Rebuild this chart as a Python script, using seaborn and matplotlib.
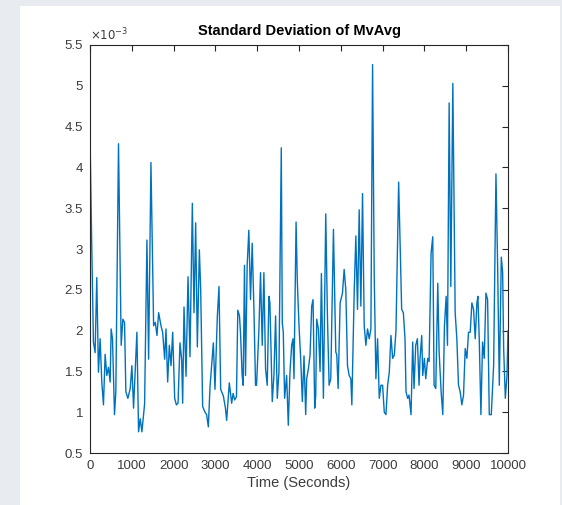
#!/usr/bin/env python3
"""Standard deviation of the moving average, MATLAB-look line chart."""
import matplotlib
matplotlib.use("Agg")
import matplotlib.pyplot as plt
import matplotlib.ticker as mticker
from matplotlib.patches import Rectangle
import seaborn as sns

# values (y in units of 1e-3)
time_s = [
    0, 42, 82, 122, 162, 202, 242, 282, 322, 362, 402, 442, 482, 506, 538,
    586, 618, 682, 746, 786, 826, 858, 906, 962, 1002, 1042, 1122, 1162,
    1202, 1242, 1306, 1362, 1402, 1458, 1522, 1562, 1602, 1642, 1698, 1738,
    1786, 1818, 1858, 1898, 1938, 1978, 2026, 2066, 2106, 2153, 2193, 2217,
    2249, 2297, 2345, 2392, 2448, 2488,
    2528, 2568, 2616, 2648, 2695, 2751, 2790, 2831, 2871, 2927, 2951, 2990,
    3046, 3086, 3126, 3190, 3240, 3269, 3333, 3389, 3424, 3461, 3504, 3536,
    3576, 3600, 3640, 3664, 3696, 3720, 3760,
    3800, 3840, 3880, 3920, 3960, 3984, 4040, 4080, 4120, 4160, 4200, 4240,
    4280, 4304, 4360, 4400, 4440, 4480, 4520, 4576, 4600, 4624, 4656, 4704,
    4744, 4784, 4824, 4856, 4880, 4930, 4960,
    5000, 5040, 5080, 5120, 5160, 5184, 5224, 5264, 5304, 5336, 5376, 5400,
    5424, 5464, 5504, 5536, 5584, 5640, 5680, 5720, 5760, 5824, 5880, 5904,
    5936, 5984, 6040, 6080, 6120, 6160, 6200, 6240, 6264, 6320, 6360, 6400,
    6440, 6480, 6520, 6560, 6600, 6640, 6680, 6720, 6760, 6800, 6840, 6880,
    6920, 6960, 7000, 7040, 7080, 7120, 7160, 7200, 7240, 7280, 7320, 7384,
    7456, 7496, 7536, 7560, 7600, 7632, 7680, 7720, 7752, 7792, 7832, 7872,
    7896, 7936, 7960, 8000, 8032, 8080, 8112, 8160, 8200, 8232, 8272, 8320,
    8352, 8400, 8440, 8480, 8520, 8552, 8592, 8632, 8680, 8736, 8776, 8816,
    8856, 8896, 8936, 8976, 9016, 9056, 9096, 9136, 9176, 9216, 9256, 9280,
    9312, 9352, 9392, 9432, 9472, 9512, 9552, 9600, 9656, 9712, 9752, 9792,
    9840, 9872, 9896, 9936, 9976, 10000,
]
std_mvavg = [
    4.41, 3.03, 1.86, 1.73, 2.65, 1.49, 1.90, 1.37, 1.09, 1.71, 1.45, 1.55,
    1.37, 2.02, 1.90, 0.97, 1.25, 4.29, 1.82, 2.14, 2.10, 1.25, 1.17, 1.29,
    1.57, 1.05, 1.98, 0.76, 0.92, 0.76, 1.10, 3.11, 1.65, 4.06, 2.06, 2.10,
    1.94, 2.22, 2.06, 1.98, 1.65, 2.02, 1.37, 1.82, 1.57, 1.98, 1.17, 1.09,
    1.11, 1.85, 1.64, 1.11, 2.29, 1.44, 2.66, 1.68, 3.56, 2.22,
    3.32, 1.80, 2.99, 2.50, 1.07, 1.00, 0.97, 0.82, 1.31, 1.68, 1.85, 1.28,
    2.17, 2.54, 1.28, 1.20, 1.05, 0.90, 1.36, 1.11, 1.23, 1.15, 1.19, 2.25,
    2.18, 1.98, 1.45, 1.33, 2.80, 1.45, 2.80,
    3.23, 2.38, 3.07, 2.30, 1.33, 1.33, 2.00, 2.71, 1.82, 2.71, 1.53, 1.33,
    2.42, 2.34, 1.13, 1.45, 2.18, 1.17, 1.49, 4.24, 2.10, 1.98, 1.17, 1.45,
    0.84, 1.49, 1.82, 1.90, 1.41, 3.33, 2.60,
    2.06, 1.66, 1.13, 1.69, 0.97, 1.41, 1.53, 1.70, 2.30, 2.38, 1.05, 1.20,
    2.14, 2.02, 1.50, 2.70, 1.17, 3.43, 2.18, 1.33, 1.41, 3.24, 1.74, 1.70,
    1.29, 2.34, 2.46, 2.75, 2.50, 1.57, 1.45, 1.41, 1.09, 2.46, 3.16, 2.26,
    3.48, 2.30, 3.68, 2.06, 1.82, 2.02, 1.90, 2.02, 5.26, 2.66, 1.41, 1.90,
    1.17, 1.33, 1.33, 1.00, 0.97, 1.33, 1.49, 1.94, 1.66, 1.70, 2.00, 3.82,
    2.26, 2.22, 1.90, 1.25, 1.17, 1.21, 0.97, 1.86, 1.29, 1.82, 1.90, 1.33,
    1.66, 1.94, 1.45, 1.66, 1.41, 1.66, 1.62, 2.95, 3.15, 1.33, 1.29, 2.58,
    1.74, 1.25, 0.97, 2.06, 2.42, 1.82, 4.79, 2.54, 5.03, 2.22, 1.90, 1.33,
    1.25, 1.09, 1.21, 1.78, 1.66, 1.98, 1.98, 2.34, 2.26, 1.90, 2.34, 2.42,
    1.90, 0.97, 1.86, 1.66, 2.46, 2.38, 0.97, 0.97, 1.57, 3.92, 2.79, 1.33,
    2.90, 2.71, 1.78, 1.17, 1.45, 2.00,
]
x_ticks = list(range(0, 10001, 1000))
y_ticks = [0.5, 1, 1.5, 2, 2.5, 3, 3.5, 4, 4.5, 5, 5.5]

sns.set_style("white")
plt.rcParams["font.family"] = ["Liberation Sans", "DejaVu Sans"]
AXCOL = "#262626"
TXTCOL = "#3c3c3c"
LINE = "#0072BD"

fig = plt.figure(figsize=(5.62, 5.05), dpi=100, facecolor="#e8ecf0")
# white "page" behind the chart
fig.patches.append(Rectangle((20 / 562, 0), 540 / 562, 499 / 505,
                             transform=fig.transFigure, facecolor="white",
                             edgecolor="none", zorder=-10))

ax = fig.add_axes([90 / 562, 52 / 505, 418 / 562, 408 / 505])
ax.set_zorder(5)
sns.lineplot(x=time_s, y=std_mvavg, ax=ax, color=LINE, linewidth=1.0,
             estimator=None, sort=False)

ax.set_xlim(0, 10000)
ax.set_ylim(0.5, 5.5)
ax.set_xticks(x_ticks)
ax.set_yticks(y_ticks)
ax.yaxis.set_major_formatter(mticker.FormatStrFormatter("%g"))
ax.tick_params(direction="in", length=4, width=0.8, color=AXCOL,
               labelcolor=TXTCOL, labelsize=9.5, top=True, right=True,
               labeltop=False, labelright=False, pad=5)
for s in ax.spines.values():
    s.set_color(AXCOL)
    s.set_linewidth(0.8)
    s.set_visible(True)

ax.set_title("Standard Deviation of MvAvg", fontsize=10.5, fontweight="bold",
             color="black", pad=7)
ax.set_xlabel("Time (Seconds)", fontsize=10.5, color=TXTCOL, labelpad=3)
ax.set_ylabel("")
ax.text(0.0, 1.005, r"$\times10^{-3}$", transform=ax.transAxes,
        fontsize=8.5, color=TXTCOL, ha="left", va="bottom")

fig.savefig("out.png", dpi=100, facecolor=fig.get_facecolor())
